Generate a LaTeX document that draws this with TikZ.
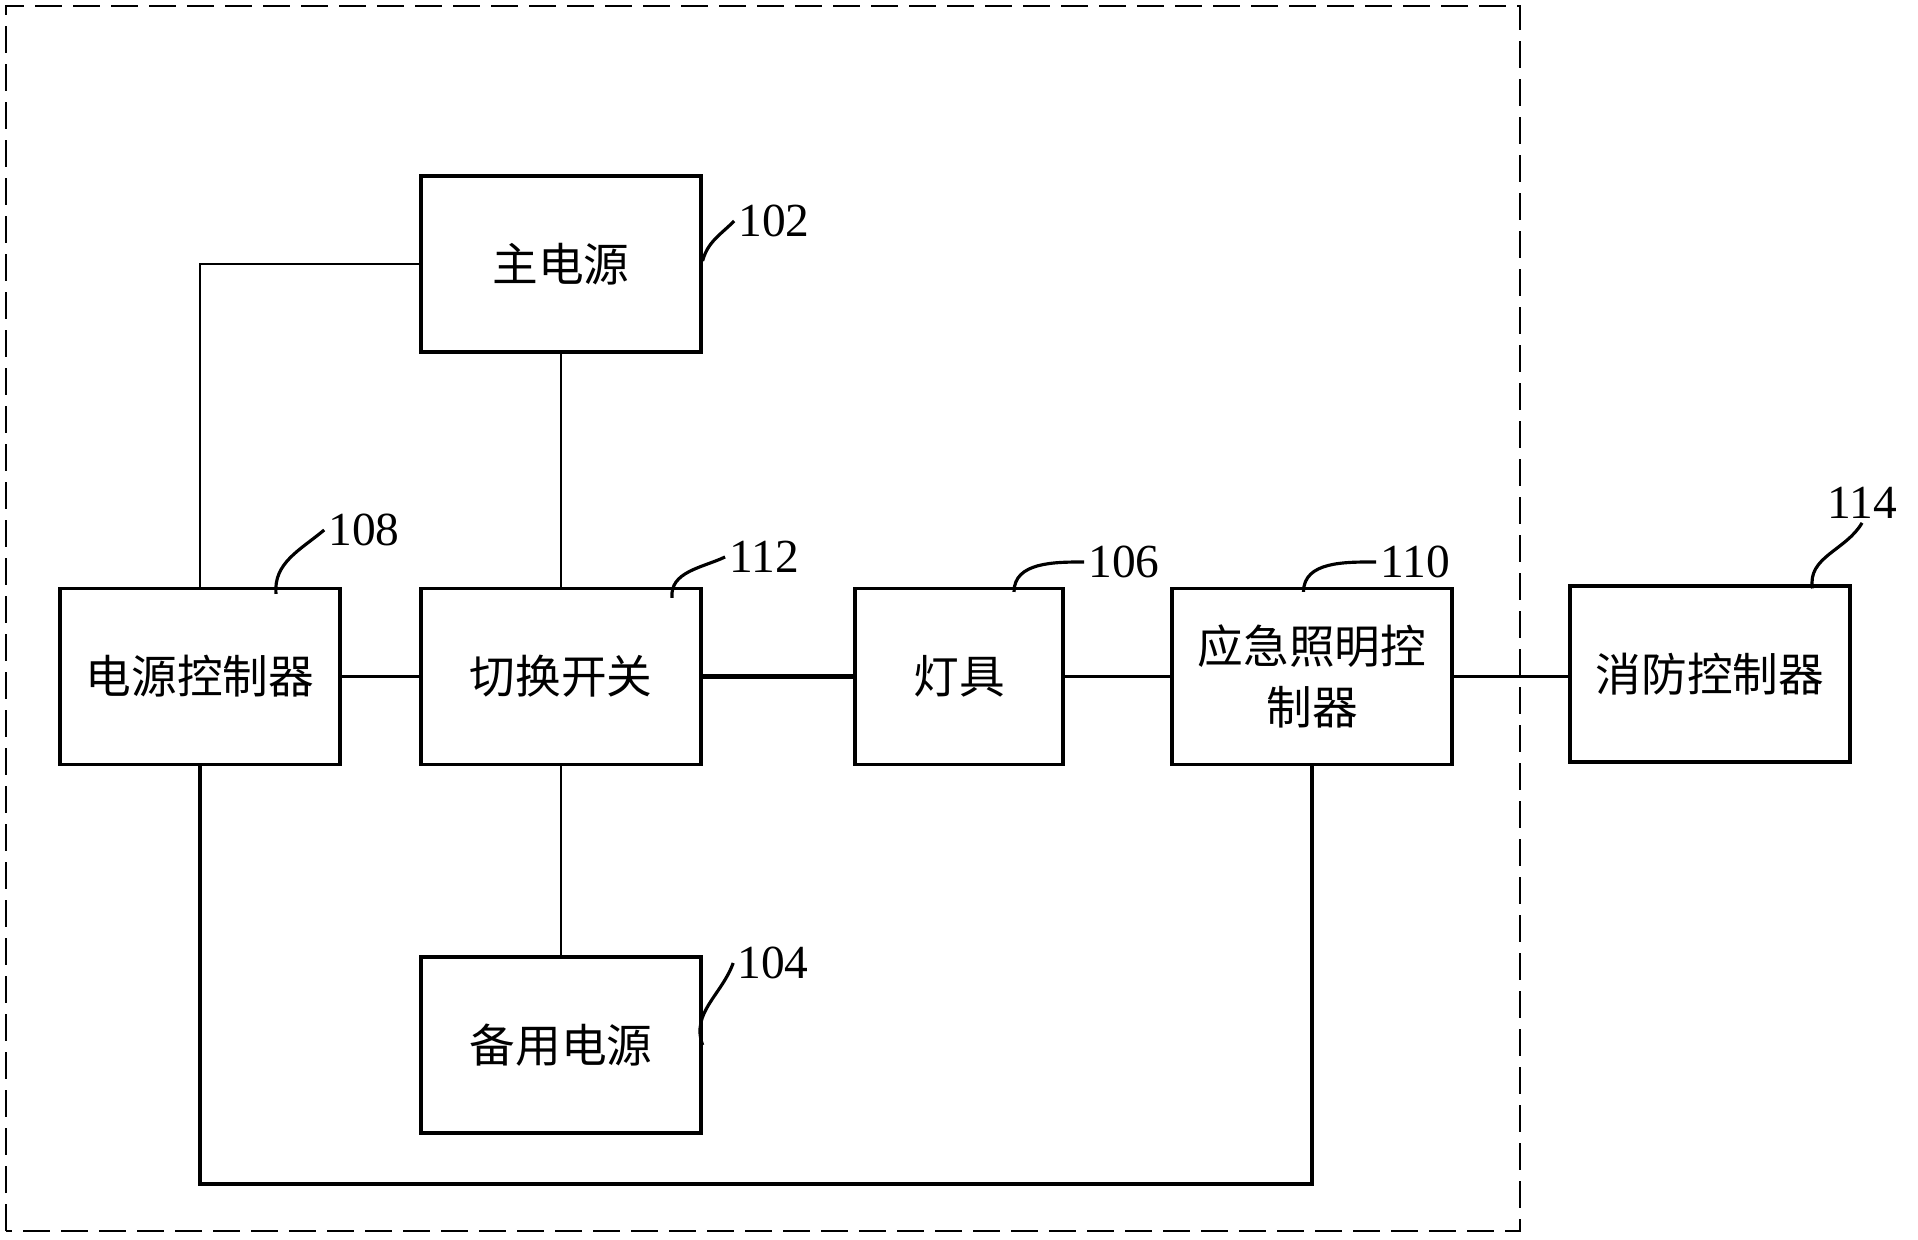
\documentclass[tikz,border=0pt]{standalone}
\usepackage{fontspec}
\setmainfont{Liberation Serif}
\newfontfamily\cjk{Noto Sans CJK SC}
\usepackage{tikz}
\usetikzlibrary{positioning}
\tikzstyle{block} = [draw, line width=0.9pt, minimum width=2.8cm, minimum height=1.76cm, inner sep=0pt, align=center, font=\cjk\fontsize{13}{17.3}\selectfont]
\tikzstyle{wire} = [line width=0.6pt]
\tikzstyle{leader} = [line width=0.9pt]
\tikzstyle{reflabel} = [inner sep=1pt, font=\fontsize{13.5}{16}\selectfont]

\begin{document}
\begin{tikzpicture}
\useasboundingbox (0,0) rectangle (19.18,12.39);

% Dashed frame around the lighting system
\draw[dash pattern=on 0.27cm off 0.11cm, line width=0.6pt] (0.06,0.08) rectangle (15.20,12.33);

% Blocks
\node[block] (main) at (5.61,9.75) {主电源};
\node[block] (pctrl) at (2.00,5.625) {电源控制器};
\node[block] (switch) at (5.61,5.625) {切换开关};
\node[block, minimum width=2.08cm] (lamp) at (9.59,5.625) {灯具};
\node[block] (ectrl) at (13.12,5.625) {应急照明控\\制器};
\node[block] (fire) at (17.10,5.65) {消防控制器};
\node[block] (backup) at (5.61,1.94) {备用电源};

% Connections
\coordinate (loop) at (0,0.55);
\draw[wire] (pctrl.north) |- (main.west);
\draw[wire] (main.south) -- (switch.north);
\draw[wire] (pctrl.east) -- (switch.west);
\draw[wire, line width=1.2pt] (switch.east) -- (lamp.west);
\draw[wire] (lamp.east) -- (ectrl.west);
\draw[wire] (ectrl.east) -- (ectrl.east -| fire.west);
\draw[wire] (switch.south) -- (backup.north);
\draw[wire, line width=0.9pt] (pctrl.south) |- (ectrl.south |- loop) -- (ectrl.south);

% Reference numbers
\node[reflabel] (l102) at (7.74,10.18) {102};
\node[reflabel] (l108) at (3.64,7.09) {108};
\node[reflabel] (l112) at (7.64,6.82) {112};
\node[reflabel] (l106) at (11.24,6.77) {106};
\node[reflabel] (l110) at (14.15,6.77) {110};
\node[reflabel] (l114) at (18.62,7.36) {114};
\node[reflabel] (l104) at (7.73,2.76) {104};

% Leader lines
\draw[leader] ([yshift=0.03cm]main.east) to[out=75,in=225] (l102.west);
\draw[leader] ([xshift=0.76cm,yshift=-0.07cm]pctrl.north) to[out=95,in=220] (l108.west);
\draw[leader] ([xshift=1.11cm,yshift=-0.11cm]switch.north) to[out=95,in=205] (l112.west);
\draw[leader] ([xshift=0.55cm,yshift=-0.05cm]lamp.north) to[out=90,in=180] (l106.west);
\draw[leader] ([xshift=-0.085cm,yshift=-0.05cm]ectrl.north) to[out=90,in=180] (l110.west);
\draw[leader] ([xshift=1.025cm,yshift=-0.04cm]fire.north) to[out=100,in=240] (l114.south);
\draw[leader] (backup.east) to[out=110,in=250] (l104.west);
\end{tikzpicture}
\end{document}
